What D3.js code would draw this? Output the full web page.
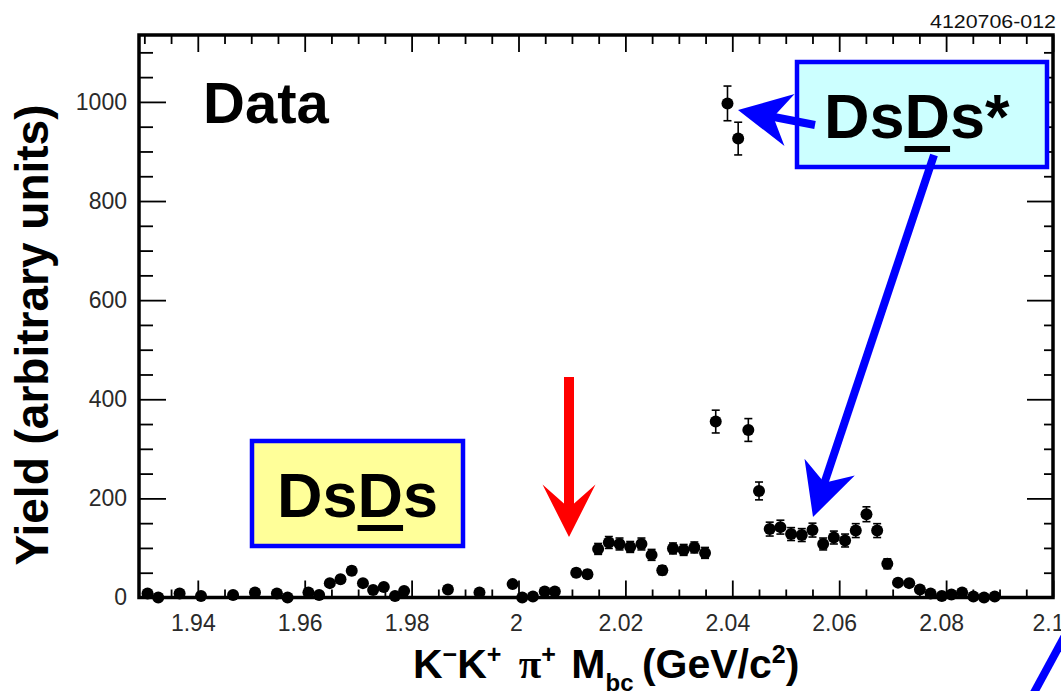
<!DOCTYPE html>
<html>
<head>
<meta charset="utf-8">
<script src="https://cdn.jsdelivr.net/npm/d3@7"></script>
<style>
  html, body { margin: 0; padding: 0; background: #fff; }
  svg { display: block; }
</style>
</head>
<body>
<svg id="chart" width="1061" height="691"></svg>
<script>
// K-K+pi+ beam-constrained mass bins (GeV/c^2)
const massBins = [
  1.9306, 1.9326, 1.9366, 1.9406, 1.9466, 1.9507, 1.9548, 1.9568, 1.9607, 1.9627,
  1.9647, 1.9667, 1.9688, 1.9709, 1.9728, 1.9748, 1.9769, 1.9786, 1.9868, 1.9927,
  1.9989, 2.0007, 2.0027, 2.0049, 2.0068, 2.0108, 2.0129, 2.0149, 2.0169, 2.0189,
  2.0209, 2.0230, 2.0249, 2.0269, 2.0289, 2.0309, 2.0329, 2.0349, 2.0369, 2.0391,
  2.0411, 2.0430, 2.0450, 2.0470, 2.0490, 2.0510, 2.0530, 2.0550, 2.0570, 2.0590,
  2.0611, 2.0631, 2.0651, 2.0671, 2.0690, 2.0710, 2.0731, 2.0751, 2.0771, 2.0792,
  2.0810, 2.0830, 2.0851, 2.0871, 2.0891
];
// Yield per bin (arbitrary units)
const yields = [
  8, 0, 8, 3, 5, 10, 8, 0, 10, 5,
  29, 37, 54, 29, 15, 21, 3, 13, 16, 10,
  27, 0, 2, 12, 12, 50, 47, 98, 111, 108,
  102, 108, 86, 55, 99, 96, 101, 90, 355, 997,
  926, 338, 215, 138, 142, 128, 126, 136, 108, 121,
  115, 135, 168, 135, 68, 30, 29, 16, 8, 3,
  6, 10, 2, 0, 2
];
// Statistical uncertainty per bin
const yieldErrors = [
  4, 3, 4, 3, 3, 4, 4, 3, 4, 3,
  6, 7, 8, 6, 5, 5, 3, 4, 5, 4,
  6, 3, 3, 4, 4, 8, 8, 11, 12, 12,
  11, 12, 11, 9, 11, 11, 11, 11, 23, 35,
  33, 23, 18, 14, 14, 13, 13, 14, 12, 13,
  13, 14, 15, 14, 10, 7, 7, 5, 4, 3,
  3, 4, 3, 3, 3
];
const xTickValues = [1.94, 1.96, 1.98, 2.0, 2.02, 2.04, 2.06, 2.08, 2.1];
const xTickLabels = ["1.94", "1.96", "1.98", "2", "2.02", "2.04", "2.06", "2.08", "2.1"];
const yTickValues = [0, 200, 400, 600, 800, 1000];
const yTickLabels = ["0", "200", "400", "600", "800", "1000"];

const FONT = "'Liberation Sans', Arial, Helvetica, sans-serif";
const svg = d3.select("#chart").style("font-family", FONT);

const plot = { left: 139, right: 1053, top: 35, bottom: 597.5 };
const x = d3.scaleLinear().domain([1.929, 2.1]).range([plot.left, plot.right]);
const y = d3.scaleLinear().domain([0, 1135]).range([plot.bottom, plot.top]);

const xMinor = d3.range(1.93, 2.1001, 0.005).filter(v => !xTickValues.some(t => Math.abs(t - v) < 1e-6));
const yMinor = d3.range(0, 1135, 50).filter(v => v % 200 !== 0);

function styleAxis(g) {
  g.select(".domain").remove();
  g.selectAll(".tick line").attr("stroke", "#000").attr("stroke-width", 1.8);
  g.selectAll("text").attr("font-family", FONT).attr("font-size", 23).attr("fill", "#2a2a2a");
}

// bottom axis: major with labels, minor unlabeled (ticks point inward)
svg.append("g").attr("transform", `translate(0,${plot.bottom})`)
  .call(d3.axisBottom(x).tickValues(xTickValues).tickSize(-17).tickPadding(17)
    .tickFormat((d, i) => xTickLabels[i]))
  .call(styleAxis)
  .call(g => g.selectAll("text").attr("dx", (d, i) => xTickLabels[i].length > 1 ? -5 : -2.5));
svg.append("g").attr("transform", `translate(0,${plot.bottom})`)
  .call(d3.axisBottom(x).tickValues(xMinor).tickSize(-8).tickFormat(""))
  .call(styleAxis);
// top axis
svg.append("g").attr("transform", `translate(0,${plot.top})`)
  .call(d3.axisTop(x).tickValues(xTickValues).tickSize(-17).tickFormat(""))
  .call(styleAxis);
svg.append("g").attr("transform", `translate(0,${plot.top})`)
  .call(d3.axisTop(x).tickValues(xMinor).tickSize(-9).tickFormat(""))
  .call(styleAxis);
// left axis
svg.append("g").attr("transform", `translate(${plot.left},0)`)
  .call(d3.axisLeft(y).tickValues(yTickValues).tickSize(-27).tickPadding(12)
    .tickFormat((d, i) => yTickLabels[i]))
  .call(styleAxis);
svg.append("g").attr("transform", `translate(${plot.left},0)`)
  .call(d3.axisLeft(y).tickValues(yMinor).tickSize(-14).tickFormat(""))
  .call(styleAxis);
// right axis
svg.append("g").attr("transform", `translate(${plot.right},0)`)
  .call(d3.axisRight(y).tickValues(yTickValues).tickSize(-26).tickFormat(""))
  .call(styleAxis);
svg.append("g").attr("transform", `translate(${plot.right},0)`)
  .call(d3.axisRight(y).tickValues(yMinor).tickSize(-9).tickFormat(""))
  .call(styleAxis);

// frame
svg.append("rect")
  .attr("x", plot.left).attr("y", plot.top)
  .attr("width", plot.right - plot.left).attr("height", plot.bottom - plot.top)
  .attr("fill", "none").attr("stroke", "#000").attr("stroke-width", 3.5);

// data points with error bars
const pts = massBins.map((m, i) => ({ m, v: yields[i], e: yieldErrors[i] }));
const eb = svg.append("g").attr("stroke", "#000").attr("stroke-width", 1.6);
pts.forEach(p => {
  const cx = x(p.m);
  eb.append("line").attr("x1", cx).attr("x2", cx).attr("y1", y(p.v - p.e)).attr("y2", y(p.v + p.e));
  [p.v - p.e, p.v + p.e].forEach(v =>
    eb.append("line").attr("x1", cx - 4).attr("x2", cx + 4).attr("y1", y(v)).attr("y2", y(v)));
});
svg.append("g").selectAll("circle").data(pts).join("circle")
  .attr("cx", d => x(d.m)).attr("cy", d => y(d.v)).attr("r", 6).attr("fill", "#000");

// axis titles
svg.append("text")
  .attr("transform", "translate(48,335) rotate(-90)")
  .attr("text-anchor", "middle").attr("font-size", 46).attr("font-weight", "bold")
  .text("Yield (arbitrary units)");

const xTitle = svg.append("text").attr("x", 413).attr("y", 678)
  .attr("font-size", 41).attr("font-weight", "bold");
xTitle.append("tspan").text("K");
xTitle.append("tspan").attr("dy", -15).attr("font-size", 25).text("\u2212");
xTitle.append("tspan").attr("dy", 15).text("K");
xTitle.append("tspan").attr("dy", -15).attr("font-size", 25).text("+");
xTitle.append("tspan").attr("dy", 15).attr("dx", 6).text(" ");
xTitle.append("tspan").attr("font-family", "'Liberation Serif', serif").text("\u03c0");
xTitle.append("tspan").attr("dy", -15).attr("font-size", 25).text("+");
xTitle.append("tspan").attr("dy", 15).attr("dx", 4).text(" M");
xTitle.append("tspan").attr("dy", 13).attr("font-size", 24).text("bc");
xTitle.append("tspan").attr("dy", -13).attr("dx", -3).text(" (GeV/c");
xTitle.append("tspan").attr("dy", -15).attr("font-size", 25).text("2");
xTitle.append("tspan").attr("dy", 15).text(")");

// plot id
svg.append("text").attr("x", 1056).attr("y", 28).attr("text-anchor", "end")
  .attr("font-size", 18).attr("textLength", 126).attr("lengthAdjust", "spacingAndGlyphs")
  .attr("fill", "#111").text("4120706-012");

// "Data" tag
svg.append("text").attr("x", 203).attr("y", 123)
  .attr("font-size", 58).attr("font-weight", "bold").text("Data");

// labelled boxes with the second D underlined
function tagBox(bx, by, bw, bh, fill, tx, ty, label) {
  svg.append("rect").attr("x", bx).attr("y", by).attr("width", bw).attr("height", bh)
    .attr("fill", fill).attr("stroke", "#0000ff").attr("stroke-width", 4.5);
  const t = svg.append("text").attr("x", tx).attr("y", ty)
    .attr("font-size", 63).attr("font-weight", "bold").text(label);
  const node = t.node();
  const x0 = node.getSubStringLength(0, 2);
  const w = node.getSubStringLength(2, 1);
  svg.append("rect").attr("x", tx + x0).attr("y", ty + 8).attr("width", w).attr("height", 6).attr("fill", "#000");
}
tagBox(252, 441, 211, 105, "#ffff99", 277, 517, "DsDs");
tagBox(797, 62, 250, 105, "#ccffff", 824, 138, "DsDs*");

// arrows with swept heads
function arrow(x0, y0, x1, y1, color, shaftW, notch) {
  const L = Math.hypot(x1 - x0, y1 - y0);
  const ux = (x1 - x0) / L, uy = (y1 - y0) / L;
  const px = -uy, py = ux;
  const headL = 52.5, half = 26.5;
  const nx = x1 - ux * notch, ny = y1 - uy * notch;
  svg.append("line").attr("x1", x0).attr("y1", y0).attr("x2", nx + ux * 2).attr("y2", ny + uy * 2)
    .attr("stroke", color).attr("stroke-width", shaftW);
  const bx = x1 - ux * headL, by = y1 - uy * headL;
  svg.append("path")
    .attr("d", `M${x1},${y1} L${bx + px * half},${by + py * half} L${nx},${ny} L${bx - px * half},${by - py * half} Z`)
    .attr("fill", color);
}
arrow(569, 377, 569, 537, "#ff0000", 10, 29);
arrow(815, 125, 738, 110, "#0000ff", 8, 36);
arrow(934, 155, 813, 517, "#0000ff", 8, 36);
svg.append("line").attr("x1", 1068).attr("y1", 630).attr("x2", 1030).attr("y2", 700)
  .attr("stroke", "#0000ff").attr("stroke-width", 8);
</script>
</body>
</html>
